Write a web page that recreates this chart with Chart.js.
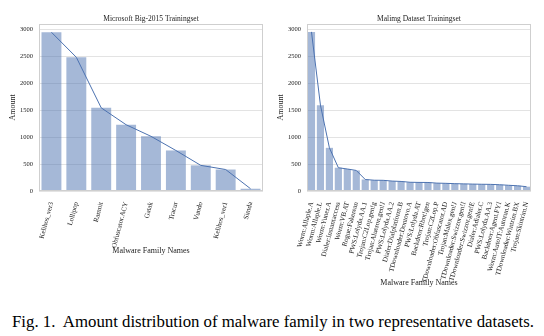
<!DOCTYPE html>
<html>
<head>
<meta charset="utf-8">
<script src="https://cdn.jsdelivr.net/npm/chart.js@4"></script>
<style>
  html, body { margin: 0; padding: 0; background: #fff; }
  body { width: 544px; height: 336px; position: relative; overflow: hidden; }
  .box { position: absolute; top: 0; width: 272px; }
  #caption {
    position: absolute; left: 12px; top: 312px;
    font-family: "Liberation Serif", serif; font-size: 16.8px;
    white-space: pre; color: #000;
  }
</style>
</head>
<body>
<div class="box" style="left:0;height:260px"><canvas id="bigChart"></canvas></div>
<div class="box" style="left:272px;height:292px"><canvas id="malimgChart"></canvas></div>
<div id="caption">Fig. 1.  Amount distribution of malware family in two representative datasets.</div>
<script>
const bigFamilies = ['Kelihos_ver3', 'Lollipop', 'Ramnit', 'Obfuscator.ACY', 'Gatak', 'Tracur', 'Vundo', 'Kelihos_ver1', 'Simda'];
const bigCounts = [2942, 2478, 1541, 1228, 1013, 751, 475, 398, 42];

const malimgFamilies = [
    'Worm:Allaple.A', 'Worm:Allaple.L', 'Worm:Yuner.A', 'Dialer:Instantaccess', 'Worm:VB.AT',
    'Rogue:Fakerean', 'PWS:Lolyda.AA.1', 'Trojan:C2Lop.gen!g', 'Trojan:Alueron.gen!J', 'PWS:Lolyda.AA.2',
    'Dialer:Dialplatform.B', 'TDownloader:Dontovo.A', 'PWS:Lolyda.AT', 'Backdoor:Rbot!gen', 'Trojan:C2Lop.P',
    'TDownloader:Obfuscator.AD', 'Trojan:Malex.gen!J', 'TDownloader:Swizzor.gen!I', 'TDownloader:Swizzor.gen!E', 'Dialer:Adialer.C',
    'PWS:Lolyda.AA.3', 'Backdoor:Agent.FYI', 'Worm:AutoIT:Autorun.K', 'TDownloader:Wintrim.BX', 'Trojan:Skintrim.N'
];
const malimgCounts = [2949, 1591, 800, 431, 408, 381, 213, 200, 198, 184, 177, 162, 159, 158, 146, 142, 136, 132, 128, 125, 123, 116, 106, 97, 80];

const yTicks = [0, 500, 1000, 1500, 2000, 2500, 3000];

const serif = '"Liberation Serif", "Times New Roman", serif';

// frame around the plot + title centred over the plot
const framePlugin = {
    id: 'frame',
    afterDraw(chart, args, opts) {
        const a = chart.chartArea;
        const ctx = chart.ctx;
        ctx.save();
        ctx.strokeStyle = '#cfcfcf';
        ctx.lineWidth = 1;
        ctx.strokeRect(Math.round(a.left) + 0.5, Math.round(a.top) + 0.5,
            Math.round(a.right - a.left) - 1, Math.round(a.bottom - a.top) - 1);
        ctx.fillStyle = '#222';
        ctx.font = '7.5px ' + serif;
        ctx.textAlign = 'center';
        ctx.textBaseline = 'middle';
        ctx.fillText(opts.text, (a.left + a.right) / 2, opts.y);
        ctx.restore();
    }
};

function makeChart(id, labels, values, title, yWidth, xHeight, padRight, yTitlePad) {
    return new Chart(document.getElementById(id).getContext('2d'), {
        data: {
            labels: labels,
            datasets: [{
                type: 'line',
                data: values,
                borderColor: '#4c72b0',
                borderWidth: 1,
                pointRadius: 0,
                tension: 0,
                order: 0
            }, {
                type: 'bar',
                data: values,
                backgroundColor: 'rgba(76, 114, 176, 0.5)',
                borderWidth: 0,
                barPercentage: 0.8,
                categoryPercentage: 1.0,
                order: 1
            }]
        },
        options: {
            responsive: true,
            maintainAspectRatio: false,
            animation: false,
            layout: { padding: { top: 24, right: padRight, left: 0, bottom: 0 } },
            plugins: {
                legend: { display: false },
                tooltip: { enabled: false },
                frame: { text: title, y: 19 }
            },
            scales: {
                x: {
                    grid: { display: false },
                    border: { display: false },
                    ticks: {
                        autoSkip: false,
                        minRotation: 75,
                        maxRotation: 75,
                        padding: 2,
                        color: '#222',
                        font: { family: serif, size: 7 }
                    },
                    title: {
                        display: true,
                        text: 'Malware Family Names',
                        color: '#222',
                        padding: { top: 4, bottom: 4 },
                        font: { family: serif, size: 8 }
                    },
                    afterFit(scale) { scale.height = xHeight; }
                },
                y: {
                    min: 0,
                    max: 3095,
                    afterBuildTicks(scale) { scale.ticks = yTicks.map(v => ({ value: v })); },
                    grid: { color: '#e3e3e3', drawTicks: false },
                    border: { display: false },
                    ticks: {
                        padding: 6,
                        color: '#222',
                        font: { family: serif, size: 6.5 },
                        callback: v => String(v)
                    },
                    title: {
                        display: true,
                        text: 'Amount',
                        color: '#222',
                        padding: { top: yTitlePad, bottom: 0 },
                        font: { family: serif, size: 8 }
                    },
                    afterFit(scale) { scale.width = yWidth; }
                }
            }
        },
        plugins: [framePlugin]
    });
}

makeChart('bigChart', bigFamilies, bigCounts, 'Microsoft Big-2015 Trainingset', 39, 69, 9, 8);
makeChart('malimgChart', malimgFamilies, malimgCounts, 'Malimg Dataset Trainingset', 35, 101, 13, 4);
</script>
</body>
</html>
